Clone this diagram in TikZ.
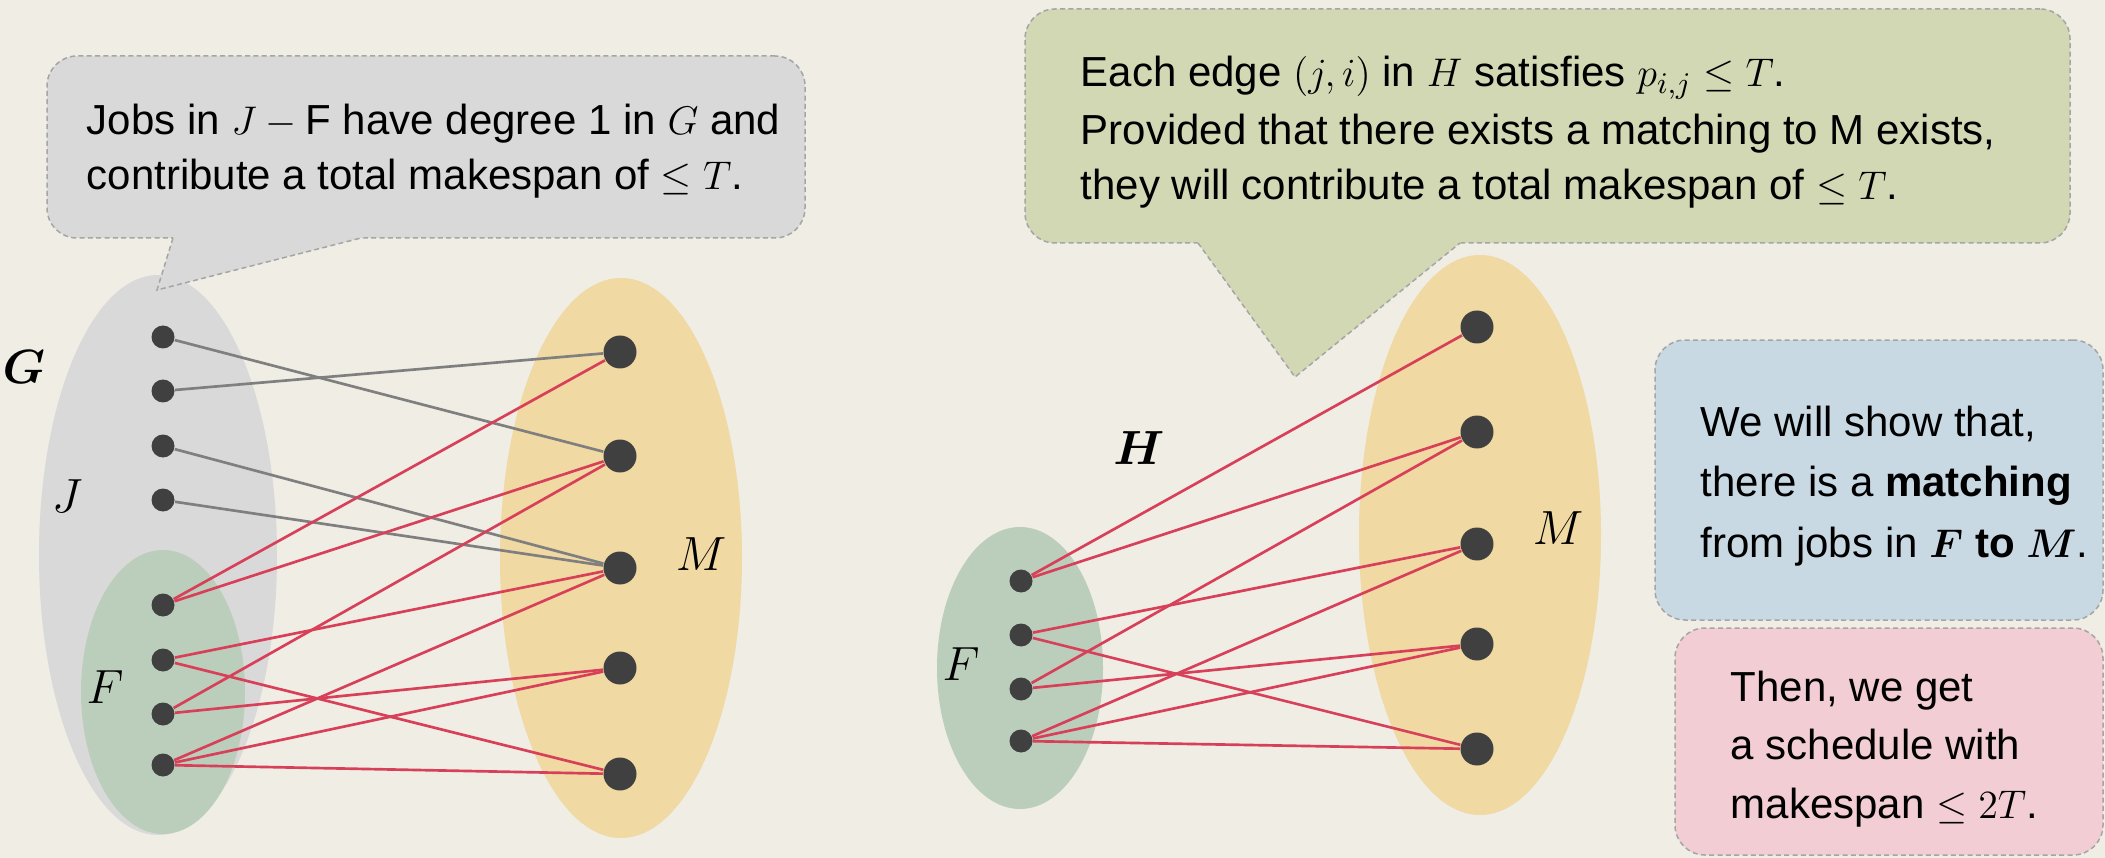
\documentclass[tikz,border=0pt]{standalone}
\usepackage{amsmath}
\usepackage{fontspec}
\setmainfont{Liberation Sans}
\usetikzlibrary{shapes.geometric}
\definecolor{bgc}{HTML}{EFEDE4}
\definecolor{grayfill}{HTML}{D9D9D9}
\definecolor{greenell}{HTML}{BBCEBB}
\definecolor{yellowell}{HTML}{F0D9A3}
\definecolor{nodec}{HTML}{404040}
\definecolor{grayedge}{HTML}{7F7F7F}
\definecolor{rededge}{HTML}{D8405A}
\definecolor{calgreen}{HTML}{D2D8B4}
\definecolor{calblue}{HTML}{C9D9E3}
\definecolor{calpink}{HTML}{F2CDD4}
\definecolor{bordc}{HTML}{A5A5A5}
\begin{document}
\begin{tikzpicture}[x=0.3pt,y=-0.3pt,
 dot/.style={circle,fill=nodec,inner sep=0,minimum size=6.9pt},
 bigdot/.style={circle,fill=nodec,inner sep=0,minimum size=9.9pt},
 grp/.style={ellipse,inner sep=0},
 redge/.style={draw=rededge,line width=0.8pt},
 gedge/.style={draw=grayedge,line width=0.8pt},
 box/.style={rectangle,rounded corners=9pt,draw=bordc,dash pattern=on 1.5pt off 1pt,line width=0.45pt,inner sep=0},
 tailline/.style={draw=bordc,dash pattern=on 1.5pt off 1pt,line width=0.45pt},
 txt/.style={anchor=base west,inner sep=0,font=\fontsize{12.6}{15}\selectfont},
 lbl/.style={inner sep=0,font=\fontsize{14}{16}\selectfont}]
% background
\fill[bgc] (0,0) rectangle (2105,858);
\useasboundingbox (0,0) rectangle (2105,858);

% ---------- left graph G ----------
\node[grp,fill=grayfill,minimum width=71.4pt,minimum height=168pt] (Jset) at (158,555) {};
\node[grp,fill=greenell,minimum width=49.2pt,minimum height=85.2pt] (Fset) at (163,692) {};
\node[grp,fill=yellowell,minimum width=72.6pt,minimum height=168pt] (Mset) at (621,558) {};

\node[lbl] (lG) at (24,367) {$\boldsymbol{G}$};
\node[lbl] (lJ) at (67,496) {$J$};
\node[lbl] (lF) at (105,687) {$F$};
\node[lbl] (lM) at (701,554) {$M$};

\foreach \n/\y in {1/337,2/391,3/446,4/500,5/605,6/660,7/714,8/765}
  \node[dot] (l\n) at (163,\y) {};
\foreach \n/\y in {1/352,2/456,3/568,4/668,5/774}
  \node[bigdot] (r\n) at (620,\y) {};

\draw[gedge] (l1) -- (r2);
\draw[gedge] (l2) -- (r1);
\draw[gedge] (l3) -- (r3);
\draw[gedge] (l4) -- (r3);
\draw[redge] (l5) -- (r1);
\draw[redge] (l5) -- (r2);
\draw[redge] (l6) -- (r3);
\draw[redge] (l6) -- (r5);
\draw[redge] (l7) -- (r2);
\draw[redge] (l7) -- (r4);
\draw[redge] (l8) -- (r3);
\draw[redge] (l8) -- (r4);
\draw[redge] (l8) -- (r5);

% ---------- right graph H ----------
\node[grp,fill=greenell,minimum width=49.8pt,minimum height=84.6pt] (hFset) at (1020,668) {};
\node[grp,fill=yellowell,minimum width=72.6pt,minimum height=168pt] (hMset) at (1480,535) {};

\node[lbl] (lH) at (1139,448) {$\boldsymbol{H}$};
\node[lbl] (lhF) at (961,664) {$F$};
\node[lbl] (lhM) at (1558,528) {$M$};

\foreach \n/\y in {1/581,2/635,3/689,4/741}
  \node[dot] (hl\n) at (1021,\y) {};
\foreach \n/\y in {1/327,2/432,3/544,4/644,5/749}
  \node[bigdot] (hr\n) at (1477,\y) {};

\draw[redge] (hl1) -- (hr1);
\draw[redge] (hl1) -- (hr2);
\draw[redge] (hl2) -- (hr3);
\draw[redge] (hl2) -- (hr5);
\draw[redge] (hl3) -- (hr2);
\draw[redge] (hl3) -- (hr4);
\draw[redge] (hl4) -- (hr3);
\draw[redge] (hl4) -- (hr4);
\draw[redge] (hl4) -- (hr5);

% ---------- callout 1 ----------
\node[box,fill=grayfill,minimum width=227.4pt,minimum height=54.6pt] (c1) at (426,147) {};
\coordinate (c1tip) at (157,290);
\fill[grayfill] (175.5,230) -- (c1tip) -- (392.4,230) -- cycle;
\draw[tailline] (173,238) -- (c1tip) -- (361,238);
\node[txt] (c1a) at (86,135) {Jobs in $J-\mathrm{F}$ have degree 1 in $G$ and};
\node[txt] (c1b) at (86,190) {contribute a total makespan of $\le T$.};

% ---------- callout 2 ----------
\node[box,fill=calgreen,minimum width=313.5pt,minimum height=70.2pt] (c2) at (1547.5,126) {};
\coordinate (c2tip) at (1295,377);
\fill[calgreen] (1192.2,235) -- (c2tip) -- (1469.8,235) -- cycle;
\draw[tailline] (1198,243) -- (c2tip) -- (1460,243);
\node[txt] (c2a) at (1080,87) {Each edge $(j,i)$ in $H$ satisfies $p_{i,j}\le T$.};
\node[txt] (c2b) at (1080,145) {Provided that there exists a matching to M exists,};
\node[txt] (c2c) at (1080,200) {they will contribute a total makespan of $\le T$.};

% ---------- blue box ----------
\node[box,fill=calblue,minimum width=134.4pt,minimum height=84pt] (c3) at (1879,480) {};
\node[txt] (c3a) at (1700,437) {We will show that,};
\node[txt] (c3b) at (1700,497) {there is a \textbf{matching}};
\node[txt] (c3c) at (1700,558) {from jobs in $\boldsymbol{F}$ \textbf{to} $\boldsymbol{M}$.};

% ---------- pink box ----------
\node[box,fill=calpink,minimum width=128.4pt,minimum height=68.1pt] (c4) at (1889,741.5) {};
\node[txt] (c4a) at (1730,701) {Then, we get};
\node[txt] (c4b) at (1730,759) {a schedule with};
\node[txt] (c4c) at (1730,818) {makespan $\le 2T$.};
\end{tikzpicture}
\end{document}
